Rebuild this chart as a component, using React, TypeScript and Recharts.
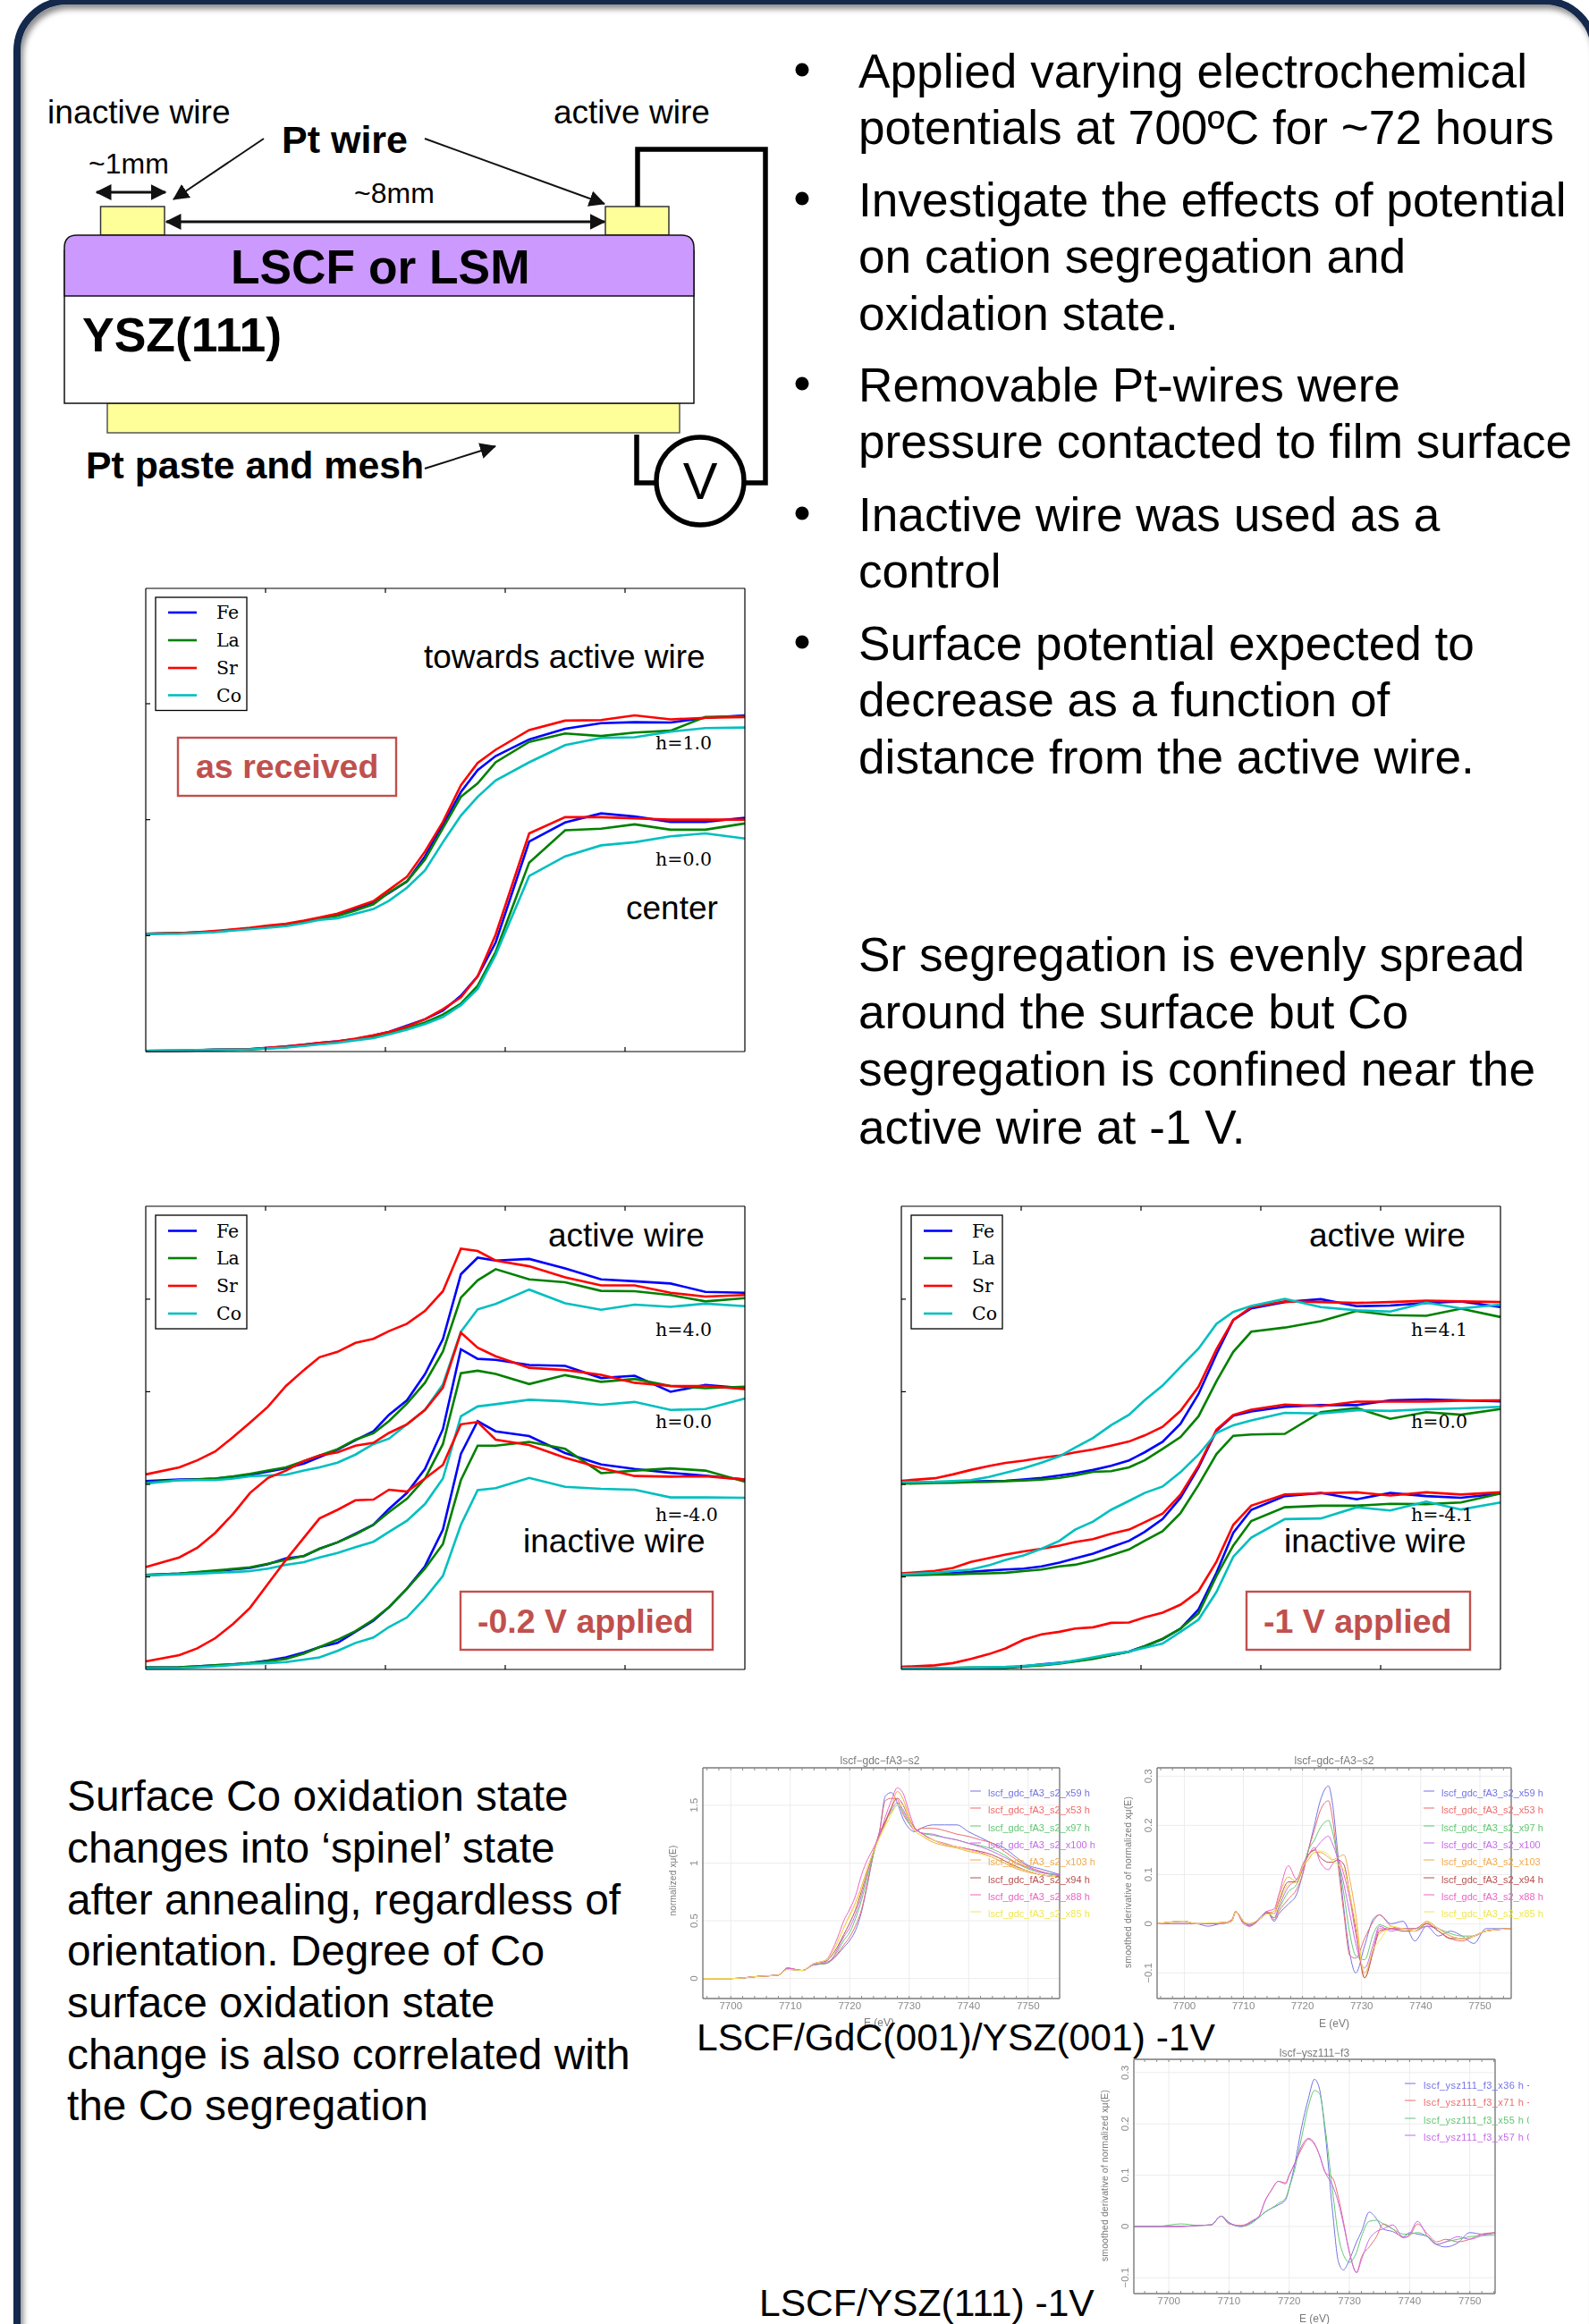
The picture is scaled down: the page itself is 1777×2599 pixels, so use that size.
import React from 'react';
import { LineChart, Line, XAxis, YAxis, CartesianGrid } from 'recharts';

// energy grid of the Co/Fe/La/Sr edge panels (eV)
const edgeEnergy = [7690, 7692.8, 7694.3, 7695.8, 7697.3, 7698.7, 7700.2, 7701.7, 7703.2, 7704.5, 7706, 7707.5, 7709, 7710.3, 7711.8, 7713.3, 7714.8, 7716.3, 7717.7, 7719.2, 7722, 7725, 7728, 7730.8, 7733.8, 7736.7, 7740];
const edgeTicks = [7700, 7710, 7720, 7730];
const elements = ['Fe', 'La', 'Sr', 'Co'];

// as received
const arHighFe = [376,378,380,383,388,393,400,406,416,425,436,456,476,506,543,623,723,828,898,943,996,1030,1048,1051,1050,1065,1073];
const arHighLa = [376,378,380,383,388,393,400,406,416,425,433,450,470,508,543,613,713,813,856,923,988,1015,1007,1018,1024,1068,1070];
const arHighSr = [376,378,381,385,390,395,402,408,418,428,440,460,480,516,558,638,733,850,921,963,1026,1056,1058,1073,1060,1065,1067];
const arHighCo = [375,376,378,381,386,390,395,400,410,420,425,440,455,481,523,578,668,753,813,865,923,978,1001,1003,1021,1032,1034];
const arMidFe = [2,3,4,6,7,8,12,16,22,28,33,40,51,63,83,103,131,178,240,348,670,731,760,750,733,733,746];
const arMidLa = [2,3,4,5,6,7,10,14,20,25,30,38,47,58,75,93,118,153,210,318,603,706,711,725,708,708,728];
const arMidSr = [2,3,4,6,7,8,12,16,22,28,33,41,52,63,80,103,135,173,240,373,696,748,748,744,740,740,740];
const arMidCo = [3,4,5,6,6,7,10,13,18,23,28,36,43,55,70,88,110,148,200,308,560,623,658,668,687,696,680];

// -0.2 V applied
const lowHighFe = [590,595,596,598,603,610,620,630,645,665,688,718,746,798,843,925,1035,1238,1290,1281,1286,1256,1222,1216,1209,1183,1180];
const lowHighLa = [586,593,595,598,605,613,623,633,653,670,690,720,740,778,833,898,996,1165,1219,1254,1222,1213,1186,1185,1173,1153,1163];
const lowHighSr = [611,633,655,683,728,773,823,888,938,978,995,1023,1036,1060,1083,1123,1185,1318,1311,1281,1263,1228,1203,1203,1180,1168,1173];
const lowHighCo = [582,593,593,593,598,605,608,610,623,633,648,673,706,723,768,813,893,1058,1128,1145,1190,1147,1127,1143,1136,1146,1138];
const lowMidFe = [296,300,304,308,313,318,330,348,355,378,398,425,453,503,553,628,753,1003,973,970,954,951,913,920,870,891,881];
const lowMidLa = [296,300,305,310,315,320,331,343,356,378,398,423,453,493,535,598,706,928,936,926,894,922,901,910,888,881,886];
const lowMidSr = [321,351,381,428,488,553,600,623,653,670,680,701,710,741,768,813,883,1055,1008,981,945,938,923,898,888,888,878];
const lowMidCo = [295,298,300,303,305,308,316,328,336,351,365,383,400,431,466,518,598,793,824,831,845,840,829,838,813,816,849];
const lowBotFe = [6,7,10,13,16,20,28,38,53,70,83,118,153,195,253,323,438,675,778,746,731,678,642,628,616,607,595];
const lowBotLa = [6,7,10,13,16,20,26,33,50,70,93,120,156,195,253,316,393,593,701,701,713,691,615,623,630,623,588];
const lowBotSr = [25,45,66,98,143,193,268,343,413,473,500,530,532,563,557,598,641,768,775,720,703,663,631,606,604,605,595];
const lowBotCo = [3,4,7,10,14,18,20,23,31,38,58,83,100,133,163,223,293,453,562,568,600,572,566,563,539,539,538];

// -1 V applied
const oneHighFe = [585,586,587,589,590,591,595,600,608,615,625,638,655,680,713,770,863,988,1095,1131,1151,1160,1138,1140,1148,1153,1135];
const oneHighLa = [582,584,585,587,588,590,592,595,600,608,619,621,633,655,691,728,793,903,995,1058,1071,1091,1123,1110,1108,1130,1104];
const oneHighSr = [591,599,611,625,637,647,654,663,670,680,689,701,714,733,760,810,886,1003,1095,1135,1153,1151,1148,1151,1155,1153,1151];
const oneHighCo = [587,588,590,593,603,616,630,648,668,695,725,765,798,843,889,948,1005,1083,1120,1139,1161,1135,1125,1121,1149,1131,1143];
const oneMidFe = [296,298,302,306,310,313,316,323,335,348,363,383,403,431,471,538,633,748,795,808,823,828,828,843,846,843,840];
const oneMidLa = [295,297,298,300,301,303,308,313,323,328,341,358,376,403,433,490,578,675,732,736,738,806,819,785,806,798,816];
const oneMidSr = [301,309,318,337,349,360,370,378,388,399,408,425,438,461,488,548,638,751,797,814,830,825,839,839,839,842,843];
const oneMidCo = [298,303,308,313,326,343,357,378,403,438,463,500,528,553,573,618,673,741,765,780,804,802,812,810,815,818,823];
const oneBotFe = [4,5,5,5,5,5,10,16,21,26,35,45,56,73,95,128,188,303,428,500,543,553,533,553,543,538,551];
const oneBotLa = [5,5,5,6,6,6,9,13,18,25,33,45,55,73,96,128,176,293,388,465,508,513,513,519,518,523,551];
const oneBotSr = [8,13,20,33,48,66,93,110,118,128,132,146,147,163,178,203,245,338,453,513,548,552,555,545,555,548,555];
const oneBotCo = [5,5,5,6,7,8,11,15,20,28,38,48,56,68,81,118,156,243,353,413,471,473,508,498,526,501,523];

// XANES, LSCF/GDC
const xanesEnergy = [7695.3,7700,7705,7708,7709.5,7712,7714,7716,7717,7718,7719,7720,7721,7722,7723,7724,7725,7726,7727,7728,7729,7730,7731,7732,7734,7736,7738,7740,7742,7744,7746,7748,7750,7752,7755.3];
const xanesX59 = [0,0,.02,.03,.09,.07,.12,.13,.16,.21,.27,.33,.42,.58,.82,1.08,1.27,1.58,1.61,1.52,1.38,1.30,1.27,1.30,1.33,1.33,1.33,1.27,1.22,1.17,1.13,1.05,.98,.95,.90];
const xanesX53 = [0,0,.02,.03,.09,.07,.12,.13,.16,.22,.29,.36,.46,.6,.83,1.08,1.27,1.54,1.56,1.55,1.42,1.34,1.28,1.30,1.30,1.28,1.25,1.23,1.2,1.17,1.1,1.03,.97,.93,.89];
const xanesX97 = [0,0,.02,.03,.09,.07,.12,.13,.17,.24,.33,.40,.52,.68,.88,1.08,1.24,1.36,1.44,1.50,1.44,1.34,1.30,1.26,1.24,1.22,1.2,1.17,1.15,1.12,1.07,1.0,.95,.92,.89];
const xanesX100 = [0,0,.02,.03,.09,.07,.12,.14,.17,.26,.36,.44,.56,.72,.92,1.10,1.26,1.36,1.46,1.52,1.46,1.36,1.3,1.26,1.25,1.22,1.2,1.17,1.14,1.1,1.05,1.0,.96,.92,.9];
const xanesX103 = [0,0,.02,.03,.08,.07,.13,.16,.22,.32,.44,.55,.66,.8,.96,1.1,1.22,1.34,1.48,1.62,1.55,1.4,1.28,1.24,1.18,1.15,1.13,1.1,1.08,1.05,1.0,.95,.92,.9,.88];
const xanesX94 = [0,0,.02,.03,.08,.07,.13,.15,.2,.28,.38,.48,.6,.76,.94,1.1,1.24,1.36,1.48,1.56,1.5,1.38,1.3,1.26,1.2,1.16,1.14,1.12,1.1,1.07,1.02,.97,.93,.9,.88];
const xanesX88 = [0,0,.02,.03,.09,.07,.13,.16,.24,.36,.5,.6,.72,.9,1.03,1.13,1.24,1.4,1.54,1.65,1.6,1.44,1.3,1.26,1.2,1.17,1.14,1.12,1.09,1.05,1.0,.96,.93,.9,.88];
const xanesX85 = [0,0,.02,.03,.08,.07,.13,.16,.22,.32,.44,.54,.65,.78,.95,1.1,1.22,1.32,1.42,1.5,1.5,1.38,1.28,1.24,1.2,1.16,1.14,1.11,1.08,1.05,1.0,.96,.93,.9,.88];

// derivative, LSCF/GDC
const derivEnergy = [7695.4,7700,7702,7704,7706,7708,7708.7,7710,7711,7713,7714,7715.2,7716,7717.6,7719,7720,7721,7722,7723,7724.4,7725,7726,7727,7728,7729,7730.5,7732,7733,7735,7737,7739,7741,7743,7745,7747,7749,7751,7755.3];
const derivX59 = [0,0,0,-.005,0,.005,.025,.005,-.005,.015,.025,.005,.02,.04,.06,.1,.15,.2,.25,.28,.25,.14,.03,-.06,-.1,-.045,.01,.018,0,.005,-.035,-.005,-.025,-.015,-.025,-.04,-.01,-.01];
const derivX53 = [0,0,0,0,0,.008,.025,.005,-.003,.012,.025,.008,.025,.05,.07,.1,.15,.19,.23,.25,.22,.12,.02,-.065,-.07,-.03,.005,.018,-.005,-.01,-.01,0,-.015,-.03,-.035,-.025,-.015,-.01];
const derivX97 = [0,0,0,0,0,.005,.024,.005,-.003,.012,.022,.012,.03,.065,.08,.11,.15,.17,.195,.21,.19,.13,.06,-.02,-.065,-.073,-.02,-.002,-.01,-.01,-.01,-.005,-.01,-.02,-.025,-.025,-.015,-.01];
const derivX100 = [0,0,0,0,0,.005,.025,.003,-.002,.012,.025,.012,.035,.075,.09,.11,.14,.15,.165,.178,.165,.13,.08,.02,-.04,-.09,-.04,-.005,-.015,-.01,-.015,-.005,-.01,-.025,-.03,-.025,-.015,-.01];
const derivX103 = [0,.005,0,0,.002,.005,.025,.003,0,.012,.022,.025,.055,.095,.085,.115,.13,.145,.145,.135,.13,.135,.14,.09,.02,-.11,-.05,-.02,-.01,-.01,-.015,.005,-.01,-.025,-.03,-.025,-.015,-.01];
const derivX94 = [0,.005,0,0,.002,.005,.025,.003,0,.012,.022,.02,.045,.085,.085,.115,.14,.15,.135,.125,.125,.13,.12,.06,-.01,-.11,-.055,-.015,-.01,-.015,-.015,0,-.015,-.03,-.03,-.025,-.015,-.01];
const derivX88 = [0,.005,0,0,.002,.005,.025,0,-.005,.012,.025,.03,.06,.118,.09,.12,.14,.155,.125,.11,.12,.13,.1,.05,-.02,-.1,-.05,-.01,-.01,-.01,-.01,.003,-.01,-.025,-.03,-.025,-.015,-.01];
const derivX85 = [0,.005,0,.002,.002,.005,.025,.005,0,.012,.02,.02,.04,.08,.085,.115,.135,.145,.148,.14,.13,.12,.11,.06,0,-.1,-.05,-.035,-.005,-.01,-.015,.003,-.01,-.025,-.03,-.025,-.015,-.01];

// derivative, LSCF/YSZ(111)
const yszEnergy = [7694.2,7698,7702,7705,7707,7708.7,7710,7712,7714,7715,7716,7717,7718.2,7719.4,7720,7721,7722,7723.2,7724.2,7725,7726,7727.2,7728.2,7729,7730,7731.2,7732,7733.3,7734.5,7735.6,7737.2,7739,7740,7741.3,7743,7744.5,7746,7748,7750,7752,7754.2];
const yszX36 = [0,0,0,.002,.003,.02,.008,0,.01,.018,.028,.035,.042,.052,.075,.125,.19,.25,.287,.27,.18,.03,-.07,-.085,-.065,-.03,-.01,.028,.015,-.005,-.01,-.02,-.012,-.015,-.02,-.035,-.04,-.032,-.012,-.015,-.012];
const yszX71 = [0,0,0,.002,.003,.02,.005,.002,.012,.02,.05,.07,.088,.085,.1,.125,.15,.17,.16,.14,.105,.095,.055,.01,-.05,-.09,-.06,-.04,-.02,.005,-.005,-.022,-.018,.005,-.015,-.03,-.025,-.03,-.025,-.015,-.012];
const yszX55 = [0,0,.005,.002,.003,.02,.007,0,.008,.018,.028,.035,.045,.055,.075,.115,.17,.235,.265,.26,.19,.07,-.02,-.055,-.07,-.05,-.02,.01,.012,.005,-.005,-.015,-.015,-.012,-.02,-.035,-.03,-.025,-.02,-.018,-.017];
const yszX57 = [0,0,0,.002,.003,.02,.007,0,.012,.02,.05,.07,.088,.083,.1,.125,.155,.172,.162,.14,.105,.08,.045,.005,-.05,-.09,-.065,-.025,-.01,-.005,.003,-.022,-.015,.01,-.02,-.035,-.03,-.02,-.025,-.018,-.013];

const gdcLegend = ['lscf_gdc_fA3_s2_x59 h', 'lscf_gdc_fA3_s2_x53 h', 'lscf_gdc_fA3_s2_x97 h', 'lscf_gdc_fA3_s2_x100 h', 'lscf_gdc_fA3_s2_x103 h', 'lscf_gdc_fA3_s2_x94 h', 'lscf_gdc_fA3_s2_x88 h', 'lscf_gdc_fA3_s2_x85 h'];
const yszLegend = ['lscf_ysz111_f3_x36 h +', 'lscf_ysz111_f3_x71 h +', 'lscf_ysz111_f3_x55 h 0', 'lscf_ysz111_f3_x57 h 0'];

const bulletLines = [
  ['Applied varying electrochemical', 98], ['potentials at 700ºC for ~72 hours', 161],
  ['Investigate the effects of potential', 242], ['on cation segregation and', 305], ['oxidation state.', 369],
  ['Removable Pt-wires were', 449], ['pressure contacted to film surface', 512],
  ['Inactive wire was used as a', 594], ['control', 657],
  ['Surface potential expected to', 738], ['decrease as a function of', 801], ['distance from the active wire.', 865],
  ['Sr segregation is evenly spread', 1086], ['around the surface but Co', 1150], ['segregation is confined near the', 1214], ['active wire at -1 V.', 1279],
] as [string, number][];
const bulletDots = [78, 222, 429, 574, 718];
const summaryLines = ['Surface Co oxidation state', 'changes into ‘spinel’ state', 'after annealing, regardless of', 'orientation. Degree of Co', 'surface oxidation state', 'change is also correlated with', 'the Co segregation'];
const summaryBaselines = [2025, 2083, 2141, 2198, 2256, 2314, 2371];

const edgeColors: Record<string, string> = { Fe: '#0000ff', La: '#008000', Sr: '#ff0000', Co: '#00bfbf' };
const softColors = ['#7272e6', '#ef6a6a', '#62c672', '#c56ae8', '#f0a94a', '#b5504f', '#ef62c4', '#f0e84e'];
const SANS = '"Liberation Sans", Arial, sans-serif';
const SERIF = '"DejaVu Serif", serif';

const toRows = (x: number[], series: number[][]) =>
  x.map((e, i) => {
    const row: Record<string, number> = { e };
    series.forEach((s, k) => { row['s' + k] = s[i]; });
    return row;
  });

const M = 6;
// tick marks only: tick={false} drops the tick lines as well
const NoLabel = () => <g />;

function EdgePanel({ left, top, width, height, groups, yMax, yTicks }: any) {
  const series = groups.flat();
  const rows = toRows(edgeEnergy, series);
  const axis = { stroke: '#000', strokeWidth: 1.2 };
  return (
    <div style={{ position: 'absolute', left: left - M, top: top - M }}>
      <LineChart width={width + 2 * M} height={height + 2 * M} data={rows} margin={{ top: M, right: M, bottom: M, left: M }}>
        <XAxis type="number" dataKey="e" domain={[7690, 7740]} ticks={edgeTicks} interval={0} height={1} mirror tick={<NoLabel />} tickSize={5} axisLine={axis} tickLine={axis} />
        <XAxis xAxisId="t" orientation="top" type="number" dataKey="e" domain={[7690, 7740]} ticks={edgeTicks} interval={0} height={1} mirror tick={<NoLabel />} tickSize={5} axisLine={axis} tickLine={axis} />
        <YAxis type="number" domain={[0, yMax]} ticks={yTicks} interval={0} width={1} mirror tick={<NoLabel />} tickSize={5} axisLine={axis} tickLine={axis} />
        <YAxis yAxisId="r" orientation="right" type="number" domain={[0, yMax]} ticks={yTicks} interval={0} width={1} mirror tick={<NoLabel />} tickSize={5} axisLine={axis} tickLine={axis} />
        {series.map((_: number[], k: number) => (
          <Line key={k} dataKey={'s' + k} type="linear" dot={false} isAnimationActive={false} strokeWidth={2.6} stroke={edgeColors[elements[k % 4]]} />
        ))}
      </LineChart>
    </div>
  );
}

function RotTick({ x, y, payload }: any) {
  const v = payload.value;
  const label = v < 0 ? '−' + Math.abs(v) : String(v);
  return (
    <text x={x + 2} y={y} transform={`rotate(-90 ${x + 2} ${y})`} textAnchor="middle" fontSize={11.5} fill="#8a8a8a" fontFamily={SANS}>{label}</text>
  );
}

function SoftPanel({ left, top, width, height, x, series, xDomain, yDomain, xTicks, yTicks, xMinor, yMinor }: any) {
  const rows = toRows(x, series);
  const ml = 40, mb = 26, mt = 4, mr = 4;
  const box = { stroke: '#7a7a7a', strokeWidth: 1.4 };
  const thin = { stroke: '#8a8a8a', strokeWidth: 1 };
  return (
    <div style={{ position: 'absolute', left: left - ml, top: top - mt, filter: 'blur(0.55px)' }}>
      <LineChart width={width + ml + mr} height={height + mt + mb} data={rows} margin={{ top: mt, right: mr, bottom: mb - 1, left: ml - 1 }}>
        <CartesianGrid stroke="#ececec" strokeWidth={1} horizontalValues={yTicks} verticalValues={xTicks} />
        <XAxis type="number" dataKey="e" domain={xDomain} ticks={xTicks} height={1} interval={0} tickLine={false} tickSize={0} tickMargin={4} axisLine={box} tick={{ fontSize: 11.5, fill: '#8a8a8a', fontFamily: SANS }} />
        <XAxis xAxisId="m" type="number" dataKey="e" domain={xDomain} ticks={xMinor} interval={0} height={1} mirror tick={<NoLabel />} tickSize={3} axisLine={false} tickLine={thin} />
        <XAxis xAxisId="t" orientation="top" type="number" dataKey="e" domain={xDomain} ticks={xMinor} interval={0} height={1} mirror tick={<NoLabel />} tickSize={3} axisLine={box} tickLine={thin} />
        <YAxis type="number" domain={yDomain} ticks={yTicks} width={1} interval={0} tickLine={false} axisLine={box} tick={<RotTick />} />
        <YAxis yAxisId="m" type="number" domain={yDomain} ticks={yMinor} interval={0} width={1} mirror tick={<NoLabel />} tickSize={3} axisLine={false} tickLine={thin} />
        <YAxis yAxisId="r" orientation="right" type="number" domain={yDomain} ticks={yMinor} interval={0} width={1} mirror tick={<NoLabel />} tickSize={3} axisLine={box} tickLine={thin} />
        {series.map((_: number[], k: number) => (
          <Line key={k} dataKey={'s' + k} type="monotone" dot={false} isAnimationActive={false} strokeWidth={1} stroke={softColors[k]} />
        ))}
      </LineChart>
    </div>
  );
}

function EdgeLegend({ x, y, rowYs }: any) {
  return (
    <g>
      <rect x={x} y={y} width={102} height={rowYs[3] - y + 17} fill="#fff" stroke="#000" strokeWidth={1.3} />
      {elements.map((el, i) => (
        <g key={el}>
          <line x1={x + 14} x2={x + 46} y1={rowYs[i]} y2={rowYs[i]} stroke={edgeColors[el]} strokeWidth={2.6} />
          <text x={x + 68} y={rowYs[i] + 7} fontFamily={SERIF} fontSize={20.5} fill="#000">{el}</text>
        </g>
      ))}
    </g>
  );
}

const Serif = ({ x, y, children }: any) => <text x={x} y={y} fontFamily={SERIF} fontSize={20.5} fill="#000">{children}</text>;
const Sans = ({ x, y, size = 37, weight, fill = '#000', children, anchor }: any) => (
  <text x={x} y={y} fontFamily={SANS} fontSize={size} fontWeight={weight} fill={fill} textAnchor={anchor}>{children}</text>
);
const RedBox = ({ x, y, w, h, tx, ty, children }: any) => (
  <g>
    <rect x={x} y={y} width={w} height={h} fill="#fff" stroke="#c0504d" strokeWidth={2.4} />
    <text x={tx} y={ty} fontFamily={SANS} fontSize={37.5} fontWeight={700} fill="#c0504d">{children}</text>
  </g>
);

function SoftLegend({ clipId, lineX, textX, rows, labels, size, spacing }: any) {
  return (
    <g clipPath={`url(#${clipId})`}>
      {labels.map((t: string, i: number) => (
        <g key={t}>
          <line x1={lineX} x2={lineX + 12} y1={rows[i] - 2} y2={rows[i] - 2} stroke={softColors[i]} strokeWidth={1} />
          <text x={textX} y={rows[i] + 4} fontSize={size} fontFamily={SANS} letterSpacing={spacing} fill={softColors[i]}>{t}</text>
        </g>
      ))}
    </g>
  );
}

const gdcRows = [2005, 2024, 2044, 2063, 2082, 2102, 2121, 2140];
const yszRows = [2332, 2351, 2371, 2390];
const range = (a: number, b: number, s: number) => { const out: number[] = []; for (let v = a; v <= b + 1e-9; v += s) out.push(+v.toFixed(3)); return out; };

export default function App() {
  return (
    <div style={{ position: 'absolute', left: 0, top: 0, width: 1777, height: 2599, overflow: 'hidden', background: '#fff' }}>
      {/* poster frame */}
      <div style={{ position: 'absolute', left: 15, top: -3, width: 1772, height: 2760, boxSizing: 'border-box', border: '8px solid #14294b', borderRadius: 60, boxShadow: 'inset 3px 5px 6px #8c8c8c' }} />

      <EdgePanel left={163} top={658} width={670} height={518} yMax={1478} yTicks={[370, 740, 1110]}
        groups={[[arHighFe, arHighLa, arHighSr, arHighCo], [arMidFe, arMidLa, arMidSr, arMidCo]]} />
      <EdgePanel left={163} top={1349} width={670} height={518} yMax={1451} yTicks={[290, 580, 870, 1160]}
        groups={[[lowHighFe, lowHighLa, lowHighSr, lowHighCo], [lowMidFe, lowMidLa, lowMidSr, lowMidCo], [lowBotFe, lowBotLa, lowBotSr, lowBotCo]]} />
      <EdgePanel left={1008} top={1349} width={670} height={518} yMax={1451} yTicks={[290, 580, 870, 1160]}
        groups={[[oneHighFe, oneHighLa, oneHighSr, oneHighCo], [oneMidFe, oneMidLa, oneMidSr, oneMidCo], [oneBotFe, oneBotLa, oneBotSr, oneBotCo]]} />

      <SoftPanel left={786} top={1977} width={399} height={258} x={xanesEnergy} xDomain={[7695.3, 7755.3]} yDomain={[-0.173, 1.824]}
        series={[xanesX59, xanesX53, xanesX97, xanesX100, xanesX103, xanesX94, xanesX88, xanesX85]}
        xTicks={range(7700, 7750, 10)} yTicks={[0, 0.5, 1, 1.5]} xMinor={range(7696, 7754, 2)} yMinor={range(-0.1, 1.8, 0.1)} />
      <SoftPanel left={1294} top={1977} width={396} height={258} x={derivEnergy} xDomain={[7695.4, 7755.3]} yDomain={[-0.152, 0.317]}
        series={[derivX59, derivX53, derivX97, derivX100, derivX103, derivX94, derivX88, derivX85]}
        xTicks={range(7700, 7750, 10)} yTicks={[-0.1, 0, 0.1, 0.2, 0.3]} xMinor={range(7696, 7754, 2)} yMinor={range(-0.14, 0.3, 0.02)} />
      <SoftPanel left={1268} top={2303} width={404} height={262} x={yszEnergy} xDomain={[7694.2, 7754.2]} yDomain={[-0.131, 0.326]}
        series={[yszX36, yszX71, yszX55, yszX57]}
        xTicks={range(7700, 7750, 10)} yTicks={[-0.1, 0, 0.1, 0.2, 0.3]} xMinor={range(7696, 7754, 2)} yMinor={range(-0.12, 0.32, 0.02)} />

      {/* blurred labels of the pasted plots */}
      <svg width={1777} height={2599} style={{ position: 'absolute', left: 0, top: 0, filter: 'blur(0.6px)' }}>
        <defs>
          <clipPath id="clipA"><rect x={1080} y={1990} width={144} height={170} /></clipPath>
          <clipPath id="clipB"><rect x={1588} y={1990} width={138} height={170} /></clipPath>
          <clipPath id="clipC"><rect x={1565} y={2320} width={145} height={90} /></clipPath>
        </defs>
        <Sans x={984} y={1973} size={12} fill="#7a7a7a" anchor="middle">lscf−gdc−fA3−s2</Sans>
        <Sans x={1492} y={1973} size={12} fill="#7a7a7a" anchor="middle">lscf−gdc−fA3−s2</Sans>
        <Sans x={1470} y={2300} size={12} fill="#7a7a7a" anchor="middle">lscf−ysz111−f3</Sans>
        <Sans x={983} y={2266} size={12} fill="#7a7a7a" anchor="middle">E (eV)</Sans>
        <Sans x={1492} y={2267} size={12} fill="#7a7a7a" anchor="middle">E (eV)</Sans>
        <Sans x={1470} y={2597} size={12} fill="#7a7a7a" anchor="middle">E (eV)</Sans>
        <text transform="translate(756 2103) rotate(-90)" textAnchor="middle" fontFamily={SANS} fontSize={10} letterSpacing={0.2} fill="#7a7a7a">normalized xμ(E)</text>
        <text transform="translate(1265 2105) rotate(-90)" textAnchor="middle" fontFamily={SANS} fontSize={10.5} letterSpacing={0.1} fill="#7a7a7a">smoothed derivative of normalized xμ(E)</text>
        <text transform="translate(1239 2433) rotate(-90)" textAnchor="middle" fontFamily={SANS} fontSize={10.5} letterSpacing={0.1} fill="#7a7a7a">smoothed derivative of normalized xμ(E)</text>
        <SoftLegend clipId="clipA" lineX={1085} textX={1105} rows={gdcRows} labels={gdcLegend} size={11} spacing={0} />
        <SoftLegend clipId="clipB" lineX={1592} textX={1612} rows={gdcRows} labels={gdcLegend} size={11} spacing={0} />
        <SoftLegend clipId="clipC" lineX={1571} textX={1592} rows={yszRows} labels={yszLegend} size={11} spacing={0.4} />
      </svg>

      {/* device sketch, text and panel annotations */}
      <svg width={1777} height={2599} style={{ position: 'absolute', left: 0, top: 0 }}>
        <defs>
          <marker id="head" markerWidth="6" markerHeight="6" refX="5.5" refY="3" orient="auto-start-reverse" markerUnits="strokeWidth">
            <path d="M0,0 L6,3 L0,6 Z" fill="#111" />
          </marker>
          <marker id="headBig" markerWidth="9" markerHeight="9" refX="8.5" refY="4.5" orient="auto-start-reverse" markerUnits="strokeWidth">
            <path d="M0,0 L9,4.5 L0,9 Z" fill="#111" />
          </marker>
        </defs>

        <rect x={120} y={451} width={640} height={33} fill="#ffff99" stroke="#555" strokeWidth={1.5} />
        <rect x={112.5} y={231} width={71.5} height={32} fill="#ffff99" stroke="#333" strokeWidth={1.5} />
        <rect x={677} y={231} width={71} height={32} fill="#ffff99" stroke="#333" strokeWidth={1.5} />
        <rect x={72} y={280} width={704} height={171} fill="#fff" stroke="#111" strokeWidth={1.5} />
        <path d="M72 331 V277 Q72 263 86 263 H762 Q776 263 776 277 V331 Z" fill="#cc99ff" stroke="#111" strokeWidth={1.5} />
        <Sans x={258} y={317} size={53.3} weight={700}>LSCF or LSM</Sans>
        <Sans x={92} y={393} size={53.5} weight={700}>YSZ(111)</Sans>
        <Sans x={96} y={535} size={42.8} weight={700}>Pt paste and mesh</Sans>
        <Sans x={53} y={138} size={37.2}>inactive wire</Sans>
        <Sans x={619} y={138} size={37}>active wire</Sans>
        <Sans x={315} y={171} size={43} weight={700}>Pt wire</Sans>
        <Sans x={99} y={194} size={32}>~1mm</Sans>
        <Sans x={396} y={227} size={32}>~8mm</Sans>
        <line x1={108} x2={185} y1={215} y2={215} stroke="#111" strokeWidth={3} markerStart="url(#head)" markerEnd="url(#head)" />
        <line x1={186} x2={676} y1={248} y2={248} stroke="#111" strokeWidth={3} markerStart="url(#head)" markerEnd="url(#head)" />
        <line x1={295} x2={194} y1={155} y2={223} stroke="#111" strokeWidth={2} markerEnd="url(#headBig)" />
        <line x1={475} x2={676} y1={155} y2={228} stroke="#111" strokeWidth={2} markerEnd="url(#headBig)" />
        <line x1={475} x2={554} y1={524} y2={499} stroke="#111" strokeWidth={2} markerEnd="url(#headBig)" />
        <path d="M713 231 V167 H856 V540 H833" fill="none" stroke="#000" strokeWidth={5.5} />
        <path d="M712 486 V540 H735" fill="none" stroke="#000" strokeWidth={5.5} />
        <ellipse cx={783} cy={538} rx={49} ry={49} fill="#fff" stroke="#000" strokeWidth={5.5} />
        <Sans x={783} y={558} size={58} anchor="middle">V</Sans>

        {bulletDots.map((y) => <circle key={y} cx={897} cy={y} r={7.5} fill="#000" />)}
        {bulletLines.map(([t, y]) => <Sans key={t} x={960} y={y} size={53.2}>{t}</Sans>)}
        {summaryLines.map((t, i) => <Sans key={t} x={75} y={summaryBaselines[i]} size={47.8}>{t}</Sans>)}
        <Sans x={779} y={2293} size={42.6}>LSCF/GdC(001)/YSZ(001) -1V</Sans>
        <Sans x={849} y={2590} size={42.6}>LSCF/YSZ(111) -1V</Sans>

        <EdgeLegend x={174} y={668} rowYs={[685, 716, 747, 777.5]} />
        <Sans x={474} y={747}>towards active wire</Sans>
        <RedBox x={199} y={825} w={244} h={65} tx={219} ty={870}>as received</RedBox>
        <Serif x={733} y={838}>h=1.0</Serif>
        <Serif x={733} y={968}>h=0.0</Serif>
        <Sans x={700} y={1028}>center</Sans>

        <EdgeLegend x={174} y={1359} rowYs={[1376.5, 1407, 1438, 1469]} />
        <Sans x={613} y={1394}>active wire</Sans>
        <Serif x={733} y={1494}>h=4.0</Serif>
        <Serif x={733} y={1597}>h=0.0</Serif>
        <Serif x={733} y={1701}>h=-4.0</Serif>
        <Sans x={585} y={1736}>inactive wire</Sans>
        <RedBox x={515} y={1780} w={282} h={65} tx={534} ty={1826}>-0.2 V applied</RedBox>

        <EdgeLegend x={1019} y={1359} rowYs={[1376.5, 1407, 1438, 1469]} />
        <Sans x={1464} y={1394}>active wire</Sans>
        <Serif x={1578} y={1494}>h=4.1</Serif>
        <Serif x={1578} y={1597}>h=0.0</Serif>
        <Serif x={1578} y={1701}>h=-4.1</Serif>
        <Sans x={1436} y={1736}>inactive wire</Sans>
        <RedBox x={1394} y={1780} w={250} h={65} tx={1413} ty={1826}>-1 V applied</RedBox>
      </svg>
    </div>
  );
}
